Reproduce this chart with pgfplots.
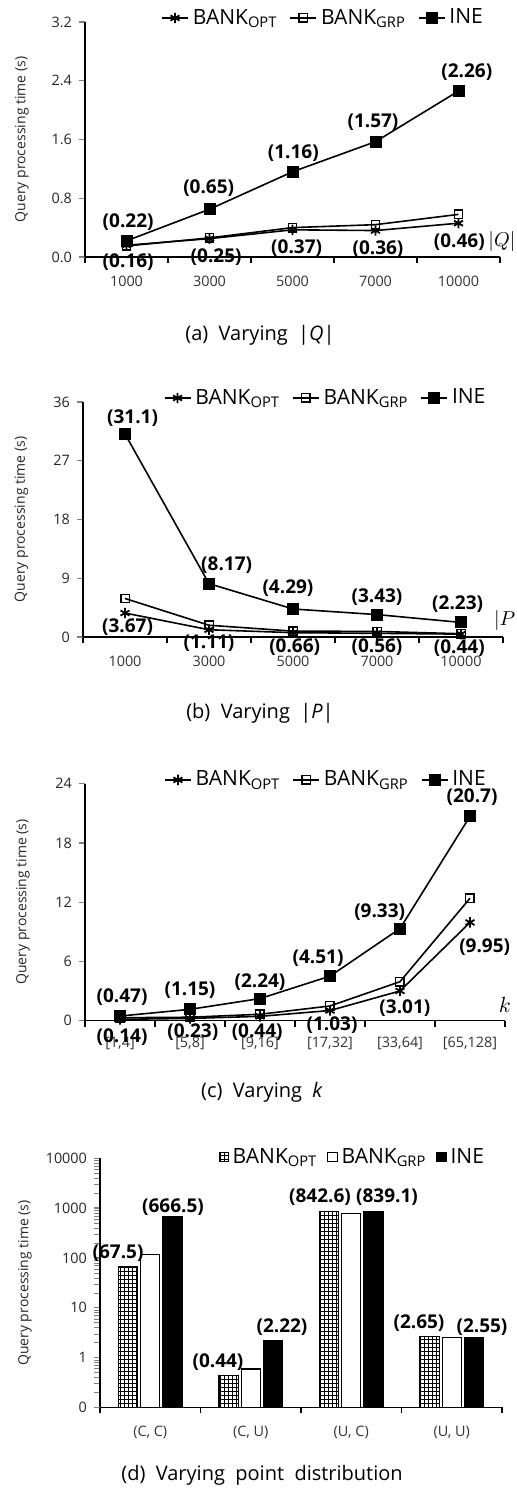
\documentclass[border=0pt]{standalone}
\usepackage{fontspec}
\setmainfont{Open Sans}
\usepackage{pgfplots}
\pgfplotsset{compat=1.18}
\usetikzlibrary{patterns}

\pgfdeclarepatternformonly{finegrid}{\pgfqpoint{-0.5pt}{-0.5pt}}{\pgfqpoint{2.5pt}{2.5pt}}{\pgfqpoint{2pt}{2pt}}{%
  \pgfsetlinewidth{0.5pt}%
  \pgfpathmoveto{\pgfqpoint{0pt}{0pt}}\pgfpathlineto{\pgfqpoint{2.1pt}{0pt}}%
  \pgfpathmoveto{\pgfqpoint{0pt}{0pt}}\pgfpathlineto{\pgfqpoint{0pt}{2.1pt}}%
  \pgfusepath{stroke}}

\newcommand\lb{\fontsize{9.5}{10}\selectfont\bfseries}
\newcommand\legfont{\fontsize{10.5}{11}\selectfont}
\newcommand\capfont{\fontsize{10}{11}\selectfont}
\newcommand\ylfont{\fontsize{7}{8}\selectfont}

\pgfplotsset{
  base/.style={
    scale only axis, anchor=south west, clip=false,
    axis x line*=bottom, axis y line*=left,
    axis line style={-, line width=0.6pt, black},
    xmin=0.5,
    tick align=outside, major tick length=3pt, minor tick length=3pt,
    every major x tick/.append style={draw=none},
    every minor x tick/.append style={draw=black, line width=0.6pt},
    every major y tick/.append style={line width=0.6pt},
    xticklabel style={font=\fontsize{7.2}{8}\selectfont, text=black!80, yshift=-3pt},
    yticklabel style={font=\fontsize{7.2}{8}\selectfont, text=black!85},
    legend columns=3,
    legend style={draw=none, fill=none, font=\legfont, anchor=center,
      /tikz/every even column/.append style={column sep=4pt}},
  },
  linechart/.style={base,
    legend image code/.code={\draw[mark repeat=2,mark phase=2,##1] plot coordinates {(0pt,0pt) (6.5pt,0pt) (13pt,0pt)};},
  },
  barleg/.style={legend image code/.code={\draw[##1, line width=0.5pt] (0pt,-2.3pt) rectangle (4.6pt,2.3pt);}},
  opt/.style={black, line width=0.8pt, mark=asterisk, mark size=2.6pt, mark options={line width=0.9pt}},
  grp/.style={black, line width=0.8pt, mark=square, mark size=2.1pt, mark options={fill=white, line width=0.7pt}},
  ine/.style={black, line width=0.8pt, mark=square*, mark size=2.6pt, mark options={fill=black}},
}

\begin{document}
\begin{tikzpicture}
\path[use as bounding box] (0,0) rectangle (258pt,744pt);

% ---------------- (a) ----------------
\begin{axis}[linechart, at={(42.5pt,615.5pt)}, width=207.5pt, height=117.5pt,
  xmax=5.5, xtick={1,2,3,4,5}, xticklabels={1000,3000,5000,7000,10000},
  minor xtick={0.5,1.5,2.5,3.5,4.5,5.5},
  ymin=0, ymax=3.2, ytick={0,0.8,1.6,2.4,3.2}, yticklabels={0.0,0.8,1.6,2.4,3.2},
  legend style={at={(0.576,1.017)}}]
\addplot[opt] coordinates {(1,0.16)(2,0.25)(3,0.37)(4,0.36)(5,0.46)};
\addlegendentry{BANK\textsubscript{OPT}}
\addplot[grp] coordinates {(1,0.15)(2,0.26)(3,0.40)(4,0.44)(5,0.58)};
\addlegendentry{BANK\textsubscript{GRP}}
\addplot[ine] coordinates {(1,0.22)(2,0.65)(3,1.16)(4,1.57)(5,2.26)};
\addlegendentry{INE}
\node[font=\lb] at (axis cs:1.02,0.48) {(0.22)};
\node[font=\lb] at (axis cs:1.02,-0.07) {(0.16)};
\node[font=\lb] at (axis cs:1.99,0.94) {(0.65)};
\node[font=\lb] at (axis cs:2.08,0.0) {(0.25)};
\node[font=\lb] at (axis cs:3.01,1.42) {(1.16)};
\node[font=\lb] at (axis cs:3.05,0.12) {(0.37)};
\node[font=\lb] at (axis cs:3.97,1.84) {(1.57)};
\node[font=\lb] at (axis cs:4.03,0.11) {(0.36)};
\node[font=\lb] at (axis cs:5.10,2.52) {(2.26)};
\node[font=\lb] at (axis cs:5.01,0.20) {(0.46)};
\node[font=\fontsize{10}{11}\selectfont, anchor=east, inner sep=0pt] at (axis cs:5.69,0.21) {$|Q|$};
\end{axis}

% ---------------- (b) ----------------
\begin{axis}[linechart, at={(41.5pt,425.5pt)}, width=210pt, height=117.5pt,
  xmax=5.5, xtick={1,2,3,4,5}, xticklabels={1000,3000,5000,7000,10000},
  minor xtick={0.5,1.5,2.5,3.5,4.5,5.5},
  ymin=0, ymax=36, ytick={0,9,18,27,36}, yticklabels={0,9,18,27,36},
  legend style={at={(0.58,1.017)}}]
\addplot[opt] coordinates {(1,3.67)(2,1.11)(3,0.66)(4,0.56)(5,0.44)};
\addlegendentry{BANK\textsubscript{OPT}}
\addplot[grp] coordinates {(1,5.9)(2,1.8)(3,0.9)(4,0.85)(5,0.5)};
\addlegendentry{BANK\textsubscript{GRP}}
\addplot[ine] coordinates {(1,31.1)(2,8.17)(3,4.29)(4,3.43)(5,2.23)};
\addlegendentry{INE}
\node[font=\lb] at (axis cs:1.09,33.6) {(31.1)};
\node[font=\lb] at (axis cs:1.03,1.53) {(3.67)};
\node[font=\lb] at (axis cs:2.21,11.0) {(8.17)};
\node[font=\lb] at (axis cs:2.0,-0.92) {(1.11)};
\node[font=\lb] at (axis cs:2.94,7.5) {(4.29)};
\node[font=\lb] at (axis cs:3.02,-1.53) {(0.66)};
\node[font=\lb] at (axis cs:4.0,6.13) {(3.43)};
\node[font=\lb] at (axis cs:4.0,-1.53) {(0.56)};
\node[font=\lb] at (axis cs:4.96,5.06) {(2.23)};
\node[font=\lb] at (axis cs:4.98,-1.68) {(0.44)};
\node[font=\fontsize{10}{11}\selectfont, anchor=west, inner sep=0pt] at (axis cs:5.39,2.6) {$|P|$};
\end{axis}

% ---------------- (c) ----------------
\begin{axis}[linechart, at={(42.5pt,233.65pt)}, width=210pt, height=118.5pt,
  xmax=6.5, xtick={1,2,3,4,5,6}, xticklabels={{[1,4]},{[5,8]},{[9,16]},{[17,32]},{[33,64]},{[65,128]}},
  minor xtick={0.5,1.5,2.5,3.5,4.5,5.5,6.5},
  xticklabel style={yshift=1.5pt},
  ymin=0, ymax=24, ytick={0,6,12,18,24}, yticklabels={0,6,12,18,24},
  legend style={at={(0.576,1.016)}}]
\addplot[opt] coordinates {(1,0.14)(2,0.23)(3,0.44)(4,1.03)(5,3.01)(6,9.95)};
\addlegendentry{BANK\textsubscript{OPT}}
\addplot[grp] coordinates {(1,0.3)(2,0.35)(3,0.65)(4,1.49)(5,3.95)(6,12.4)};
\addlegendentry{BANK\textsubscript{GRP}}
\addplot[ine] coordinates {(1,0.47)(2,1.15)(3,2.24)(4,4.51)(5,9.33)(6,20.7)};
\addlegendentry{INE}
\node[font=\lb] at (axis cs:1.03,2.4) {(0.47)};
\node[font=\lb] at (axis cs:1.03,-1.65) {(0.14)};
\node[font=\lb] at (axis cs:2.0,3.1) {(1.15)};
\node[font=\lb] at (axis cs:2.04,-1.14) {(0.23)};
\node[font=\lb] at (axis cs:3.0,3.93) {(2.24)};
\node[font=\lb] at (axis cs:2.96,-1.14) {(0.44)};
\node[font=\lb] at (axis cs:3.83,6.35) {(4.51)};
\node[font=\lb] at (axis cs:4.03,-0.44) {(1.03)};
\node[font=\lb] at (axis cs:4.71,11.0) {(9.33)};
\node[font=\lb] at (axis cs:5.07,1.28) {(3.01)};
\node[font=\lb] at (axis cs:6.03,22.6) {(20.7)};
\node[font=\lb] at (axis cs:6.21,7.46) {(9.95)};
\node[font=\fontsize{11}{12}\selectfont] at (axis cs:6.5,1.6) {$k$};
\end{axis}

% ---------------- (d) ----------------
\begin{axis}[base, at={(50pt,40.35pt)}, width=201pt, height=124.5pt,
  ymode=log, log origin y=infty, ybar,
  xmax=4.5, xtick={1,2,3,4}, xticklabels={{(C, C)},{(C, U)},{(U, C)},{(U, U)}},
  minor xtick={0.5,1.5,2.5,3.5,4.5},
  ymin=0.1, ymax=10000, ytick={0.1,1,10,100,1000,10000}, yticklabels={0,1,10,100,1000,10000},
  bar width=0.19,
  legend style={at={(0.63,1.005)}, /tikz/every even column/.append style={column sep=3pt}}]
\addplot[draw=black, line width=0.6pt, pattern=finegrid, pattern color=black, bar shift=-0.22, barleg]
  coordinates {(1,67.5)(2,0.44)(3,842.6)(4,2.65)};
\addlegendentry{BANK\textsubscript{OPT}}
\addplot[draw=black, line width=0.6pt, fill=white, bar shift=0, barleg]
  coordinates {(1,115)(2,0.59)(3,783)(4,2.48)};
\addlegendentry{BANK\textsubscript{GRP}}
\addplot[draw=black, line width=0.6pt, fill=black, bar shift=0.22, barleg]
  coordinates {(1,666.5)(2,2.22)(3,839.1)(4,2.55)};
\addlegendentry{INE}
\node[font=\lb] at (axis cs:0.68,125) {(67.5)};
\node[font=\lb] at (axis cs:1.226,1052) {(666.5)};
\node[font=\lb] at (axis cs:1.674,0.81) {(0.44)};
\node[font=\lb] at (axis cs:2.311,4.1) {(2.22)};
\node[font=\lb] at (axis cs:2.689,1671) {(842.6)};
\node[font=\lb] at (axis cs:3.356,1671) {(839.1)};
\node[font=\lb] at (axis cs:3.674,4.93) {(2.65)};
\node[font=\lb] at (axis cs:4.301,4.1) {(2.55)};
\end{axis}

% y labels
\node[rotate=90, font=\ylfont, text=black!85] at (11pt,674.25pt) {Query processing time (s)};
\node[rotate=90, font=\ylfont, text=black!85] at (10.75pt,484.25pt) {Query processing time (s)};
\node[rotate=90, font=\ylfont, text=black!85] at (11.5pt,293pt) {Query processing time (s)};
\node[rotate=90, font=\ylfont, text=black!85] at (12.5pt,102.5pt) {Query processing time (s)};

% captions
\node[font=\capfont] at (130pt,576.5pt) {(a)\ \ Varying\ \ |\textit{Q}|};
\node[font=\capfont] at (130pt,387.5pt) {(b)\ \ Varying\ \ |\textit{P}|};
\node[font=\capfont] at (131pt,198pt) {(c)\ \ Varying\ \ \textit{k}};
\node[font=\capfont] at (131pt,6.5pt) {(d)\ \ Varying\ \ point\ \ distribution};
\end{tikzpicture}
\end{document}
